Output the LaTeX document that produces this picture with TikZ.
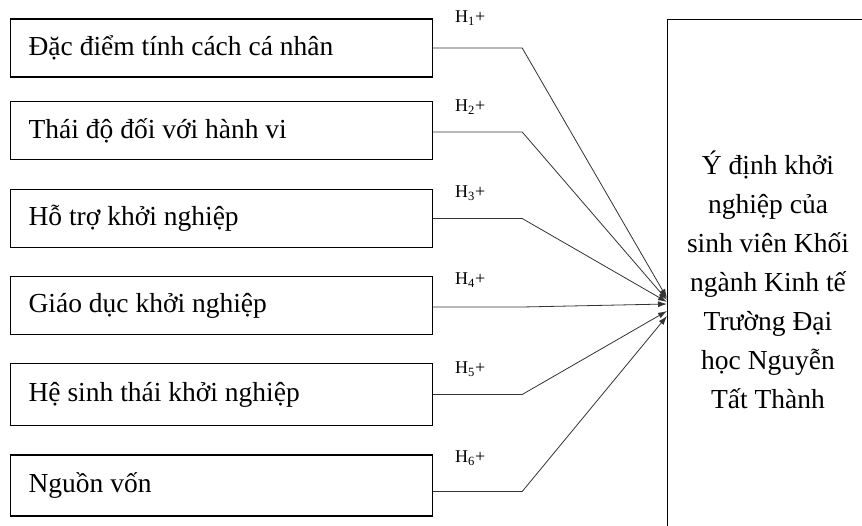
\documentclass[tikz,border=0pt]{standalone}
\usepackage{fontspec}
\setmainfont{Liberation Serif}
\usetikzlibrary{arrows.meta}
\newcommand{\boxtext}[1]{\makebox[386pt][l]{#1}}
\tikzset{
  factor/.style={draw=black, line width=1.2pt, rectangle, anchor=west,
    minimum width=422pt, minimum height=58pt, inner xsep=18pt,
    font=\fontsize{27.5}{33}\selectfont},
  hyp/.style={anchor=west, inner sep=0pt, font=\fontsize{18}{20}\selectfont},
  conn/.style={draw=black!80, line width=0.8pt, -{Latex[length=9pt,width=6pt]}},
  goalbox/.style={draw=black, line width=1.2pt, rectangle, anchor=north west,
    minimum width=320pt, minimum height=600pt},
  goaltext/.style={align=center, inner sep=0pt, font=\fontsize{27.5}{39}\selectfont}
}
\begin{document}
\begin{tikzpicture}[x=1pt,y=-1pt]
\useasboundingbox (0,0) rectangle (862,526);
\clip (0,0) rectangle (862,526);
\fill[white] (0,0) rectangle (862,526);

\node[factor] (b1) at (10,48)    {\boxtext{Đặc điểm tính cách cá nhân}};
\node[factor] (b2) at (10,130.5) {\boxtext{Thái độ đối với hành vi}};
\node[factor] (b3) at (10,218.5) {\boxtext{Hỗ trợ khởi nghiệp}};
\node[factor] (b4) at (10,305.5) {\boxtext{Giáo dục khởi nghiệp}};
\node[factor, minimum height=62pt] (b5) at (10,394.5) {\boxtext{Hệ sinh thái khởi nghiệp}};
\node[factor, minimum height=61pt] (b6) at (10,485.5) {\boxtext{Nguồn vốn}};

\node[goalbox] (goal) at (667,19) {};
\node[goaltext] (gtext) at (768,280) {Ý định khởi\\nghiệp của\\sinh viên Khối\\ngành Kinh tế\\Trường Đại\\học Nguyễn\\Tất Thành};

\node[hyp] (h1) at (455,18)  {H\textsubscript{1}+};
\node[hyp] (h2) at (455,107) {H\textsubscript{2}+};
\node[hyp] (h3) at (455,193) {H\textsubscript{3}+};
\node[hyp] (h4) at (455,280) {H\textsubscript{4}+};
\node[hyp] (h5) at (455,369) {H\textsubscript{5}+};
\node[hyp] (h6) at (455,458) {H\textsubscript{6}+};

\coordinate (t1) at (667,298);
\coordinate (t2) at (667,300);
\coordinate (t3) at (667,302);
\coordinate (t4) at (667,304);
\coordinate (t5) at (667,311);
\coordinate (t6) at (667,316);

\draw[conn] (b1.east) -- ++(89,0) -- (t1);
\draw[conn] (b2.east) ++(0,1.5) -- ++(89,0) -- (t2);
\draw[conn] (b3.east) -- ++(89,0) -- (t3);
\draw[conn] (b4.east) ++(0,1.5) -- ++(89,0) -- (t4);
\draw[conn] (b5.east) -- ++(89,0) -- (t5);
\draw[conn] (b6.east) ++(0,6) -- ++(89,0) -- (t6);
\end{tikzpicture}
\end{document}
